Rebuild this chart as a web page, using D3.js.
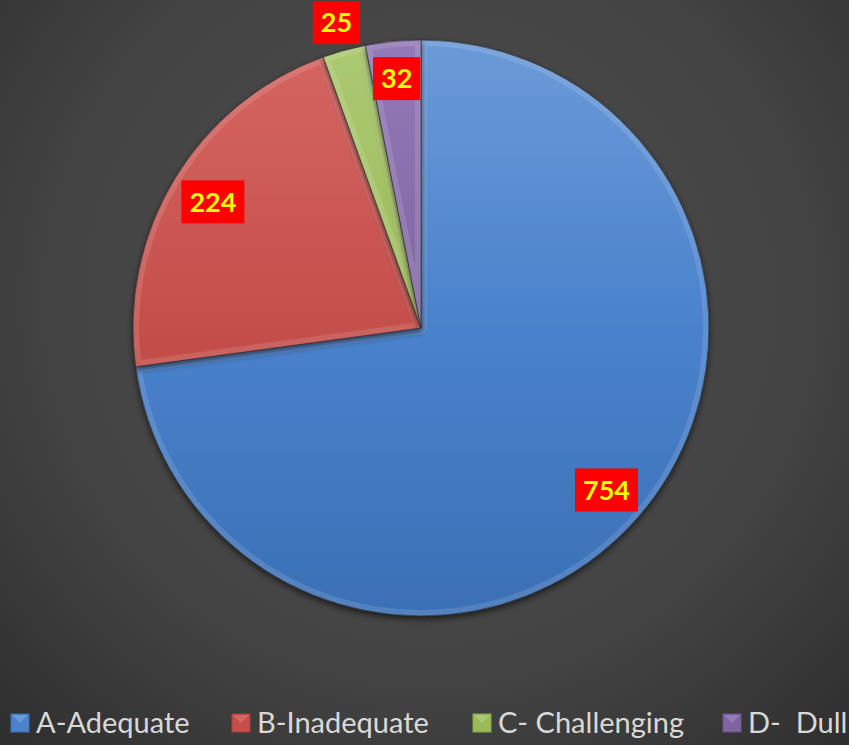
<!DOCTYPE html>
<html>
<head>
<meta charset="utf-8">
<script src="https://cdn.jsdelivr.net/npm/d3@7"></script>
<style>
  html, body { margin: 0; padding: 0; background: #3a3a3a; }
  svg { display: block; }
</style>
</head>
<body>
<div id="chart"></div>
<script>
"use strict";

// chart data
var categories = ["A-Adequate", "B-Inadequate", "C- Challenging", "D-  Dull"];
var values = [754, 224, 25, 32];
var baseColors = ["#4a82cc", "#c44f4b", "#9bbb59", "#8064a2"];
var lightColors = ["#6b9ad8", "#d66662", "#acc972", "#937ab8"];
var darkColors = ["#3b70b6", "#ad3f3c", "#86a548", "#6c5390"];
// label radius as fraction of pie radius (C sits outside the pie)
var labelRadius = [0.855, 0.845, 1.1, 0.87];

var width = 849, height = 745;
var cx = 421, cy = 328, radius = 288;

var svg = d3.select("#chart").append("svg")
    .attr("width", width)
    .attr("height", height);

var defs = svg.append("defs");

// background
var bg = defs.append("radialGradient")
    .attr("id", "bg")
    .attr("gradientUnits", "userSpaceOnUse")
    .attr("cx", 430).attr("cy", 300).attr("r", 620);
bg.append("stop").attr("offset", "0%").attr("stop-color", "#4b4b4b");
bg.append("stop").attr("offset", "60%").attr("stop-color", "#444444");
bg.append("stop").attr("offset", "100%").attr("stop-color", "#2e2e2e");

svg.append("rect")
    .attr("width", width).attr("height", height)
    .attr("fill", "url(#bg)");

// slice gradients
values.forEach(function (v, i) {
    var gr = defs.append("linearGradient")
        .attr("id", "grad" + i)
        .attr("gradientUnits", "userSpaceOnUse")
        .attr("x1", 0).attr("y1", -radius)
        .attr("x2", 0).attr("y2", radius);
    gr.append("stop").attr("offset", "0%").attr("stop-color", lightColors[i]);
    gr.append("stop").attr("offset", "50%").attr("stop-color", baseColors[i]);
    gr.append("stop").attr("offset", "100%").attr("stop-color", darkColors[i]);
});

// soft shadow under the pie
var shadow = defs.append("filter").attr("id", "shadow")
    .attr("x", "-10%").attr("y", "-10%").attr("width", "120%").attr("height", "120%");
shadow.append("feGaussianBlur").attr("in", "SourceAlpha").attr("stdDeviation", 3);
shadow.append("feOffset").attr("dx", 0).attr("dy", 3).attr("result", "b");
shadow.append("feComponentTransfer").append("feFuncA").attr("type", "linear").attr("slope", 0.6);
var merge = shadow.append("feMerge");
merge.append("feMergeNode");
merge.append("feMergeNode").attr("in", "SourceGraphic");

var pie = d3.pie().sort(null).value(function (d) { return d; });
var arcs = pie(values);
var arc = d3.arc().innerRadius(0).outerRadius(radius);

var g = svg.append("g")
    .attr("transform", "translate(" + cx + "," + cy + ")");

arcs.forEach(function (d, i) {
    defs.append("clipPath").attr("id", "clip" + i)
        .append("path")
        .attr("d", arc(d));
});

var slices = g.selectAll("g.slice")
    .data(arcs)
    .enter().append("g")
    .attr("class", "slice")
    .attr("filter", "url(#shadow)");

slices.append("path")
    .attr("d", arc)
    .attr("fill", function (d, i) { return "url(#grad" + i + ")"; });

// bevel: light inner edge, clipped to each slice
slices.append("path")
    .attr("d", arc)
    .attr("fill", "none")
    .attr("stroke", "#ffffff")
    .attr("stroke-opacity", 0.12)
    .attr("stroke-width", 12)
    .attr("stroke-linejoin", "round")
    .attr("clip-path", function (d, i) { return "url(#clip" + i + ")"; });

slices.append("path")
    .attr("d", arc)
    .attr("fill", "none")
    .attr("stroke", "#2a2a2a")
    .attr("stroke-opacity", 0.6)
    .attr("stroke-width", 1);

// data labels
var labels = g.selectAll("g.label")
    .data(arcs)
    .enter().append("g")
    .attr("class", "label")
    .attr("transform", function (d, i) {
        var a = (d.startAngle + d.endAngle) / 2;
        var r = radius * labelRadius[i];
        return "translate(" + (Math.sin(a) * r) + "," + (-Math.cos(a) * r) + ")";
    });

labels.each(function (d) {
    var gl = d3.select(this);
    var t = gl.append("text")
        .attr("text-anchor", "middle")
        .attr("dy", "0.36em")
        .attr("font-family", "Lato, 'Open Sans', sans-serif")
        .attr("font-weight", "bold")
        .attr("font-size", 27)
        .attr("fill", "#ffff00")
        .text(d.data);
    var w = t.node().getComputedTextLength() + 16;
    gl.insert("rect", "text")
        .attr("x", -w / 2).attr("y", -21.5)
        .attr("width", w).attr("height", 43)
        .attr("fill", "#ff0000");
});

// legend
var legendX = [11, 232, 473, 723];
var legend = svg.selectAll("g.legend")
    .data(categories)
    .enter().append("g")
    .attr("class", "legend")
    .attr("transform", function (d, i) { return "translate(" + legendX[i] + ",714)"; });

legend.append("rect")
    .attr("width", 18).attr("height", 18)
    .attr("fill", function (d, i) { return baseColors[i]; })
    .attr("stroke", function (d, i) { return darkColors[i]; })
    .attr("stroke-width", 1);
legend.append("path")
    .attr("d", "M1,1 L17,1 L9,9 Z")
    .attr("fill", function (d, i) { return lightColors[i]; });

legend.append("text")
    .attr("x", 25)
    .attr("y", 9)
    .attr("dy", "0.36em")
    .attr("font-family", "Lato, 'Open Sans', sans-serif")
    .attr("font-size", 29)
    .style("white-space", "pre")
    .attr("fill", "#d9d9d9")
    .text(function (d) { return d; });
</script>
</body>
</html>
